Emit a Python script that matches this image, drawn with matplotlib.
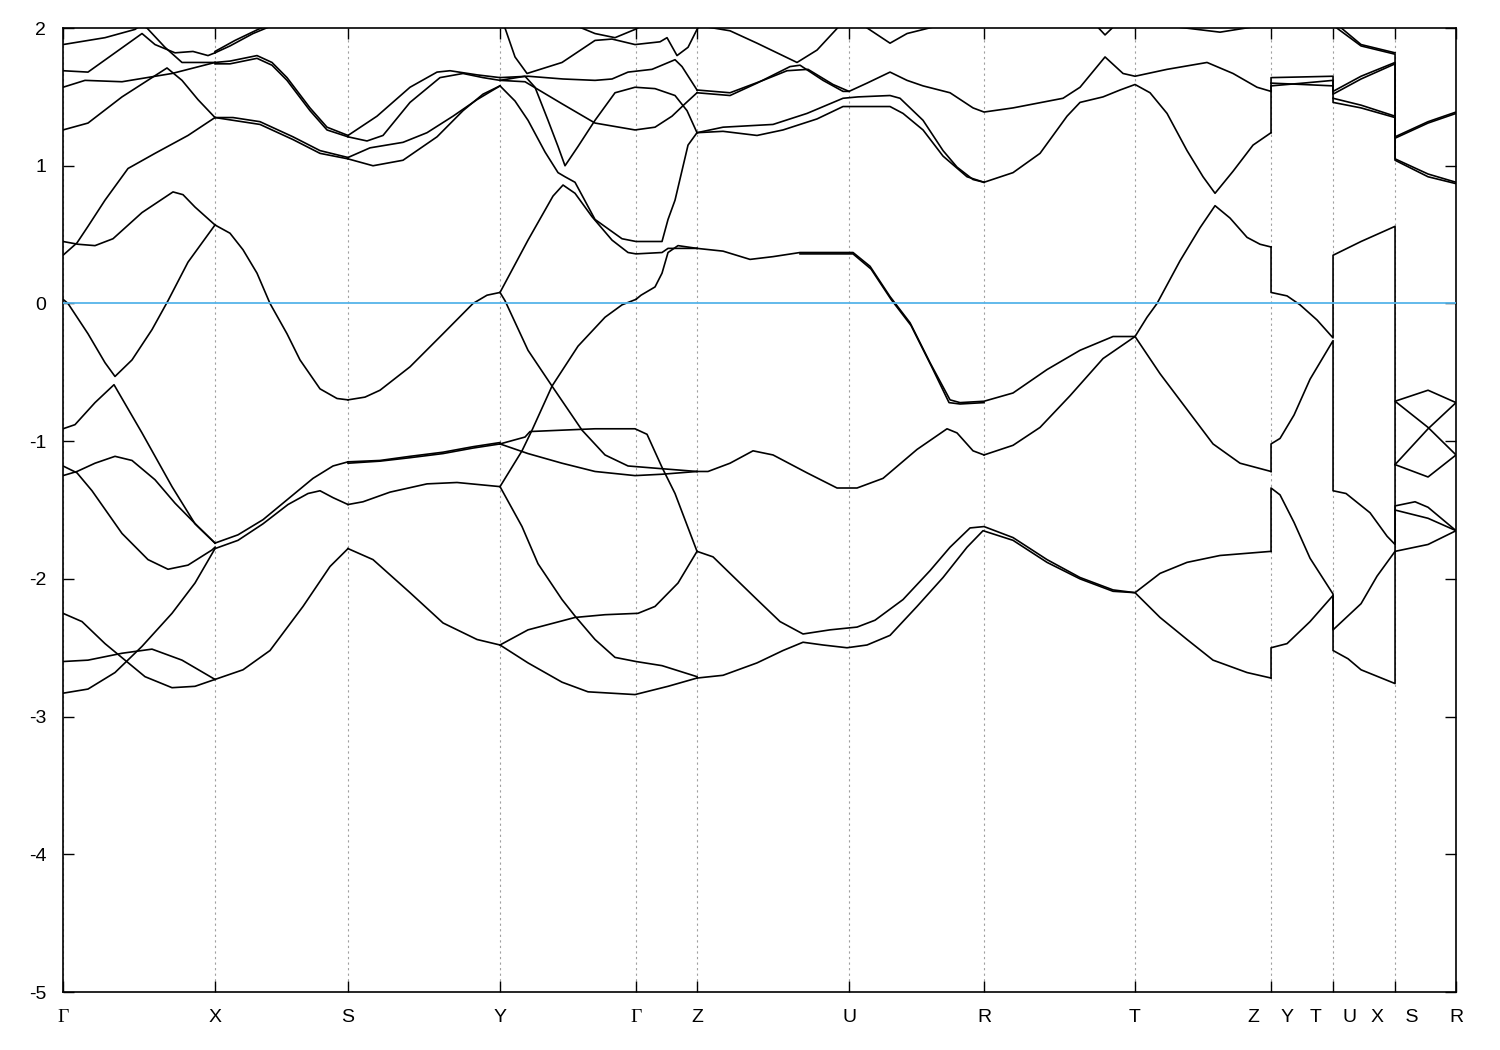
import matplotlib
matplotlib.use('Agg')
import matplotlib.pyplot as plt

plt.rcParams['font.family'] = ['Liberation Sans', 'DejaVu Sans']
plt.rcParams['axes.unicode_minus'] = False

# high-symmetry points along the k-path
kpts = [0.0, 0.152, 0.285, 0.437, 0.573, 0.634, 0.786, 0.921, 1.072, 1.208, 1.270, 1.332, 1.393]
klabels = ['Γ', 'X', 'S', 'Y', 'Γ', 'Z', 'U', 'R', 'T', 'Z    Y', 'T    U', 'X    S', 'R']
e_ticks = [2, 1, 0, -1, -2, -3, -4, -5]
e_fermi = 0.0

# bands, as (k, E), grouped by path section
bands_gx = [
    [(0, 0.03), (0.005, 0.0), (0.025, -0.22), (0.042, -0.43), (0.052, -0.53), (0.069, -0.41), (0.089, -0.19), (0.105, 0.02), (0.125, 0.30), (0.152, 0.57)],
    [(0, 0.45), (0.015, 0.43), (0.032, 0.42), (0.050, 0.47), (0.079, 0.66), (0.110, 0.81), (0.120, 0.79), (0.132, 0.70), (0.152, 0.57)],
    [(0, 0.35), (0.014, 0.44), (0.025, 0.56), (0.042, 0.75), (0.065, 0.98), (0.092, 1.09), (0.125, 1.22), (0.152, 1.35)],
    [(0, 1.26), (0.025, 1.31), (0.059, 1.50), (0.089, 1.64), (0.104, 1.71), (0.119, 1.62), (0.135, 1.48), (0.152, 1.35)],
    [(0, 1.57), (0.022, 1.62), (0.059, 1.61), (0.109, 1.67), (0.152, 1.75)],
    [(0, 1.69), (0.025, 1.68), (0.052, 1.82), (0.079, 1.96), (0.092, 1.88), (0.112, 1.82), (0.130, 1.83), (0.145, 1.80), (0.152, 1.82)],
    [(0, 1.88), (0.042, 1.93), (0.072, 1.99), (0.078, 2.02), (0.084, 2.0), (0.102, 1.86), (0.119, 1.75), (0.132, 1.75), (0.152, 1.75)],
    [(0, -0.91), (0.012, -0.88), (0.032, -0.72), (0.051, -0.59), (0.079, -0.94), (0.109, -1.33), (0.132, -1.60), (0.152, -1.74)],
    [(0, -1.18), (0.014, -1.23), (0.029, -1.36), (0.059, -1.67), (0.085, -1.86), (0.105, -1.93), (0.125, -1.90), (0.149, -1.79), (0.152, -1.77)],
    [(0, -1.25), (0.014, -1.22), (0.032, -1.16), (0.052, -1.11), (0.069, -1.14), (0.092, -1.28), (0.112, -1.45), (0.135, -1.62), (0.152, -1.74)],
    [(0, -2.83), (0.025, -2.80), (0.052, -2.68), (0.079, -2.49), (0.109, -2.25), (0.132, -2.03), (0.152, -1.78)],
    [(0, -2.25), (0.019, -2.31), (0.042, -2.47), (0.062, -2.59), (0.082, -2.71), (0.109, -2.79), (0.132, -2.78), (0.152, -2.73)],
    [(0, -2.60), (0.025, -2.59), (0.059, -2.54), (0.089, -2.51), (0.119, -2.59), (0.152, -2.73)],
]

bands_xs = [
    [(0.152, 0.57), (0.167, 0.51), (0.180, 0.39), (0.194, 0.22), (0.207, 0.0), (0.224, -0.22), (0.237, -0.41), (0.257, -0.62), (0.274, -0.69), (0.285, -0.70)],
    [(0.152, 1.35), (0.170, 1.35), (0.197, 1.32), (0.230, 1.21), (0.257, 1.11), (0.285, 1.06)],
    [(0.152, 1.35), (0.170, 1.33), (0.197, 1.30), (0.230, 1.19), (0.257, 1.09), (0.285, 1.05)],
    [(0.152, 1.75), (0.167, 1.76), (0.194, 1.80), (0.209, 1.75), (0.224, 1.64), (0.247, 1.42), (0.264, 1.28), (0.285, 1.22)],
    [(0.152, 1.74), (0.167, 1.74), (0.194, 1.78), (0.209, 1.73), (0.224, 1.62), (0.247, 1.40), (0.264, 1.26), (0.285, 1.21)],
    [(0.152, 1.82), (0.167, 1.87), (0.190, 1.96), (0.210, 2.02)],
    [(0.152, 1.83), (0.172, 1.91), (0.195, 1.99), (0.205, 2.02)],
    [(0.152, -1.74), (0.175, -1.68), (0.200, -1.57), (0.225, -1.42), (0.250, -1.27), (0.270, -1.18), (0.285, -1.15)],
    [(0.152, -1.78), (0.175, -1.72), (0.200, -1.60), (0.225, -1.46), (0.245, -1.38), (0.257, -1.36), (0.270, -1.41), (0.285, -1.46)],
    [(0.152, -2.73), (0.180, -2.66), (0.207, -2.52), (0.240, -2.20), (0.267, -1.91), (0.285, -1.78)],
]

bands_sy = [
    [(0.285, -0.70), (0.302, -0.68), (0.317, -0.63), (0.347, -0.46), (0.380, -0.22), (0.410, 0.0), (0.424, 0.06), (0.437, 0.08)],
    [(0.285, -1.78), (0.310, -1.86), (0.347, -2.10), (0.380, -2.32), (0.414, -2.44), (0.437, -2.48)],
    [(0.285, -1.15), (0.317, -1.14), (0.347, -1.11), (0.380, -1.08), (0.410, -1.04), (0.437, -1.01)],
    [(0.285, -1.16), (0.317, -1.145), (0.347, -1.12), (0.380, -1.09), (0.410, -1.05), (0.437, -1.02)],
    [(0.285, -1.46), (0.300, -1.44), (0.327, -1.37), (0.364, -1.31), (0.394, -1.30), (0.437, -1.33)],
    [(0.285, 1.22), (0.314, 1.36), (0.347, 1.57), (0.374, 1.68), (0.387, 1.69), (0.414, 1.66), (0.437, 1.64)],
    [(0.285, 1.21), (0.304, 1.18), (0.320, 1.22), (0.347, 1.46), (0.377, 1.64), (0.400, 1.67), (0.420, 1.64), (0.437, 1.62)],
    [(0.285, 1.06), (0.307, 1.13), (0.340, 1.17), (0.364, 1.24), (0.390, 1.36), (0.414, 1.48), (0.437, 1.58)],
    [(0.285, 1.05), (0.310, 1.00), (0.340, 1.04), (0.374, 1.21), (0.400, 1.40), (0.420, 1.52), (0.437, 1.58)],
]

bands_ygz = [
    [(0.437, 0.08), (0.442, 0.02), (0.465, -0.34), (0.489, -0.60), (0.519, -0.92), (0.542, -1.10), (0.565, -1.18), (0.599, -1.20), (0.634, -1.22)],
    [(0.437, 0.08), (0.465, 0.46), (0.490, 0.78), (0.500, 0.86), (0.512, 0.80), (0.529, 0.63), (0.549, 0.46), (0.565, 0.37), (0.573, 0.36), (0.599, 0.37), (0.605, 0.40), (0.634, 0.40)],
    [(0.573, 0.03), (0.578, 0.06), (0.592, 0.12), (0.599, 0.22), (0.605, 0.37), (0.615, 0.42), (0.634, 0.40)],
    [(0.437, 1.58), (0.452, 1.47), (0.465, 1.33), (0.482, 1.10), (0.495, 0.95), (0.502, 0.92), (0.512, 0.88), (0.532, 0.61), (0.559, 0.47), (0.573, 0.45), (0.599, 0.45), (0.605, 0.61), (0.612, 0.75), (0.625, 1.15), (0.634, 1.24)],
    [(0.437, 1.62), (0.462, 1.65), (0.472, 1.57), (0.485, 1.33), (0.495, 1.14), (0.502, 1.00), (0.515, 1.14), (0.532, 1.33), (0.552, 1.53), (0.572, 1.57), (0.592, 1.56), (0.612, 1.51), (0.624, 1.40), (0.634, 1.24)],
    [(0.437, 1.62), (0.462, 1.61), (0.499, 1.45), (0.532, 1.31), (0.572, 1.26), (0.592, 1.28), (0.609, 1.36), (0.622, 1.45), (0.634, 1.53)],
    [(0.437, 1.64), (0.465, 1.65), (0.500, 1.63), (0.532, 1.62), (0.549, 1.63), (0.565, 1.68), (0.589, 1.70), (0.612, 1.77), (0.619, 1.72), (0.634, 1.55)],
    [(0.437, 2.02), (0.442, 2.0), (0.452, 1.79), (0.464, 1.67), (0.499, 1.75), (0.532, 1.91), (0.549, 1.92), (0.572, 1.88), (0.597, 1.90), (0.604, 1.93), (0.614, 1.80), (0.625, 1.86), (0.634, 1.99), (0.637, 2.02)],
    [(0.512, 2.02), (0.532, 1.96), (0.552, 1.93), (0.572, 1.99), (0.580, 2.02)],
    [(0.437, -1.02), (0.462, -0.97), (0.467, -0.93), (0.499, -0.92), (0.532, -0.91), (0.572, -0.91), (0.584, -0.95), (0.599, -1.19), (0.612, -1.38), (0.634, -1.80)],
    [(0.437, -1.02), (0.465, -1.09), (0.499, -1.16), (0.532, -1.22), (0.572, -1.25), (0.599, -1.24), (0.634, -1.22)],
    [(0.437, -1.33), (0.459, -1.07), (0.469, -0.92), (0.489, -0.60), (0.515, -0.31), (0.542, -0.10), (0.559, -0.01), (0.573, 0.03)],
    [(0.437, -1.33), (0.459, -1.62), (0.475, -1.89), (0.499, -2.15), (0.512, -2.27), (0.532, -2.44), (0.552, -2.57), (0.573, -2.60), (0.599, -2.63), (0.634, -2.71)],
    [(0.437, -2.48), (0.465, -2.37), (0.512, -2.28), (0.542, -2.26), (0.575, -2.25), (0.592, -2.20), (0.615, -2.03), (0.634, -1.80)],
    [(0.437, -2.48), (0.465, -2.61), (0.499, -2.75), (0.525, -2.82), (0.572, -2.84), (0.605, -2.78), (0.634, -2.72)],
]

bands_zurtz = [
    [(0.634, 0.40), (0.660, 0.38), (0.687, 0.32), (0.710, 0.34), (0.737, 0.37), (0.790, 0.37), (0.807, 0.27), (0.827, 0.05), (0.847, -0.14), (0.867, -0.43), (0.887, -0.70), (0.897, -0.72), (0.921, -0.71), (0.950, -0.65), (0.984, -0.48), (1.017, -0.34), (1.050, -0.24), (1.072, -0.24)],
    [(0.737, 0.36), (0.790, 0.36), (0.808, 0.25), (0.828, 0.03), (0.848, -0.16), (0.868, -0.45), (0.886, -0.72), (0.897, -0.73), (0.921, -0.72)],
    [(0.921, -1.10), (0.950, -1.03), (0.977, -0.90), (1.007, -0.67), (1.040, -0.40), (1.072, -0.24), (1.084, -0.10), (1.094, 0.0), (1.117, 0.31), (1.137, 0.55), (1.152, 0.71), (1.167, 0.62), (1.184, 0.48), (1.197, 0.43), (1.208, 0.41)],
    [(0.634, -1.22), (0.645, -1.22), (0.667, -1.16), (0.690, -1.07), (0.710, -1.10), (0.744, -1.23), (0.774, -1.34), (0.794, -1.34), (0.820, -1.27), (0.854, -1.06), (0.884, -0.91), (0.894, -0.94), (0.910, -1.07), (0.921, -1.10)],
    [(1.072, -0.24), (1.097, -0.51), (1.124, -0.77), (1.150, -1.02), (1.177, -1.16), (1.208, -1.22)],
    [(0.634, -1.80), (0.650, -1.84), (0.667, -1.96), (0.694, -2.15), (0.717, -2.31), (0.740, -2.40), (0.767, -2.37), (0.794, -2.35), (0.812, -2.30), (0.840, -2.15), (0.867, -1.94), (0.887, -1.77), (0.907, -1.63), (0.921, -1.62), (0.950, -1.70), (0.984, -1.86), (1.017, -1.99), (1.050, -2.08), (1.072, -2.10), (1.097, -1.96), (1.124, -1.88), (1.157, -1.83), (1.208, -1.80)],
    [(0.634, -2.72), (0.660, -2.70), (0.694, -2.61), (0.720, -2.52), (0.740, -2.46), (0.760, -2.48), (0.784, -2.50), (0.804, -2.48), (0.827, -2.41), (0.854, -2.20), (0.880, -1.99), (0.904, -1.77), (0.920, -1.65), (0.950, -1.72), (0.984, -1.88), (1.017, -2.00), (1.050, -2.09), (1.072, -2.10), (1.097, -2.28), (1.124, -2.44), (1.150, -2.59), (1.184, -2.68), (1.208, -2.72)],
    [(0.634, 1.24), (0.660, 1.28), (0.710, 1.30), (0.744, 1.38), (0.780, 1.49), (0.795, 1.50), (0.827, 1.51), (0.837, 1.49), (0.860, 1.33), (0.880, 1.11), (0.894, 0.99), (0.910, 0.90), (0.921, 0.88)],
    [(0.634, 1.24), (0.660, 1.25), (0.694, 1.22), (0.720, 1.26), (0.754, 1.34), (0.780, 1.43), (0.827, 1.43), (0.840, 1.38), (0.860, 1.26), (0.880, 1.07), (0.904, 0.92), (0.921, 0.88)],
    [(0.921, 0.88), (0.950, 0.95), (0.977, 1.09), (1.004, 1.36), (1.017, 1.46), (1.040, 1.50), (1.057, 1.55), (1.072, 1.59), (1.087, 1.53), (1.104, 1.38), (1.124, 1.11), (1.140, 0.92), (1.152, 0.80), (1.170, 0.96), (1.190, 1.15), (1.208, 1.24)],
    [(0.634, 1.53), (0.667, 1.51), (0.694, 1.60), (0.727, 1.72), (0.737, 1.73), (0.760, 1.62), (0.780, 1.54), (0.786, 1.54), (0.804, 1.60), (0.827, 1.68), (0.844, 1.62), (0.860, 1.58), (0.887, 1.53), (0.910, 1.42), (0.921, 1.39), (0.950, 1.42), (1.000, 1.49), (1.017, 1.57), (1.042, 1.79), (1.060, 1.67), (1.072, 1.65), (1.104, 1.70), (1.144, 1.75), (1.170, 1.67), (1.194, 1.57), (1.208, 1.54)],
    [(0.634, 1.55), (0.667, 1.53), (0.700, 1.62), (0.724, 1.69), (0.745, 1.70), (0.770, 1.59), (0.786, 1.54)],
    [(0.634, 2.02), (0.667, 1.98), (0.694, 1.89), (0.734, 1.75), (0.754, 1.84), (0.777, 2.02)],
    [(0.800, 2.02), (0.827, 1.89), (0.844, 1.96), (0.877, 2.02)],
    [(1.033, 2.02), (1.042, 1.95), (1.052, 2.02)],
    [(1.100, 2.02), (1.157, 1.97), (1.200, 2.02)],
]

# last short sections, with the jumps at the Z|Y, T|U and X|S breaks
bands_tail = [
    [(1.208, 1.54), (1.208, 1.64), (1.240, 1.645), (1.270, 1.65), (1.270, 1.54), (1.298, 1.65), (1.332, 1.75), (1.332, 1.21), (1.365, 1.32), (1.393, 1.39)],
    [(1.208, 1.24), (1.208, 1.58), (1.240, 1.60), (1.270, 1.62), (1.270, 1.52), (1.298, 1.63), (1.332, 1.74), (1.332, 1.20), (1.365, 1.31), (1.393, 1.38)],
    [(1.208, 1.60), (1.240, 1.59), (1.270, 1.58), (1.270, 1.49), (1.298, 1.44), (1.332, 1.36), (1.332, 1.05), (1.365, 0.94), (1.393, 0.88)],
    [(1.270, 1.49), (1.270, 1.46), (1.298, 1.42), (1.332, 1.35), (1.332, 1.04), (1.365, 0.92), (1.393, 0.87)],
    [(1.270, 2.02), (1.298, 1.87), (1.332, 1.81), (1.332, 1.75)],
    [(1.275, 2.02), (1.298, 1.88), (1.332, 1.82)],
    [(1.208, 0.41), (1.208, 0.08), (1.224, 0.055), (1.237, -0.01), (1.254, -0.12), (1.270, -0.25), (1.270, 0.35), (1.298, 0.45), (1.332, 0.56), (1.332, -0.71), (1.365, -0.63), (1.393, -0.72)],
    [(1.208, -1.22), (1.208, -1.02), (1.217, -0.98), (1.231, -0.81), (1.247, -0.55), (1.270, -0.27), (1.270, -1.36), (1.283, -1.38), (1.307, -1.52), (1.324, -1.69), (1.332, -1.75), (1.332, -1.17), (1.365, -0.91), (1.393, -0.72)],
    [(1.208, -2.72), (1.208, -2.50), (1.224, -2.47), (1.247, -2.31), (1.270, -2.12), (1.270, -2.52), (1.285, -2.58), (1.298, -2.66), (1.332, -2.76), (1.332, -1.80), (1.365, -1.75), (1.393, -1.65)],
    [(1.208, -1.80), (1.208, -1.34), (1.217, -1.39), (1.231, -1.59), (1.247, -1.85), (1.270, -2.11), (1.270, -2.37), (1.298, -2.18), (1.314, -1.98), (1.332, -1.80), (1.332, -1.47), (1.352, -1.44), (1.365, -1.48), (1.393, -1.65)],
    [(1.332, -1.50), (1.365, -1.56), (1.393, -1.65)],
    [(1.332, -1.17), (1.365, -1.26), (1.393, -1.10)],
    [(1.332, -1.17), (1.332, -0.71), (1.365, -0.90), (1.393, -1.10)],
]

all_bands = bands_gx + bands_xs + bands_sy + bands_ygz + bands_zurtz + bands_tail

fig = plt.figure(figsize=(15, 10.5), dpi=100)
ax = fig.add_axes([0.042, 0.0552, 0.9287, 0.9181])

for band in all_bands:
    k = [p[0] for p in band]
    e = [p[1] for p in band]
    ax.plot(k, e, color='black', lw=1.2, solid_joinstyle='round')

ax.axhline(e_fermi, color='#56b4e9', lw=1.3, zorder=3)

ax.set_xlim(kpts[0], kpts[-1])
ax.set_ylim(-5, 2)
ax.set_yticks(e_ticks)
ax.set_xticks(kpts)
ax.set_xticklabels(klabels)
for lbl in ax.get_xticklabels():
    if lbl.get_text() == 'Γ':
        lbl.set_family('Liberation Serif')
        lbl.set_fontsize(16)
ax.xaxis.grid(True, linestyle=(0, (2, 3)), color='#a0a0a0', lw=0.8)

ax.tick_params(direction='in', length=8, width=1, top=True, right=True, labelsize=14)
ax.tick_params(axis='y', pad=12)
ax.tick_params(axis='x', pad=12)
for sp in ax.spines.values():
    sp.set_linewidth(1.2)

fig.savefig('out.png', dpi=100)
